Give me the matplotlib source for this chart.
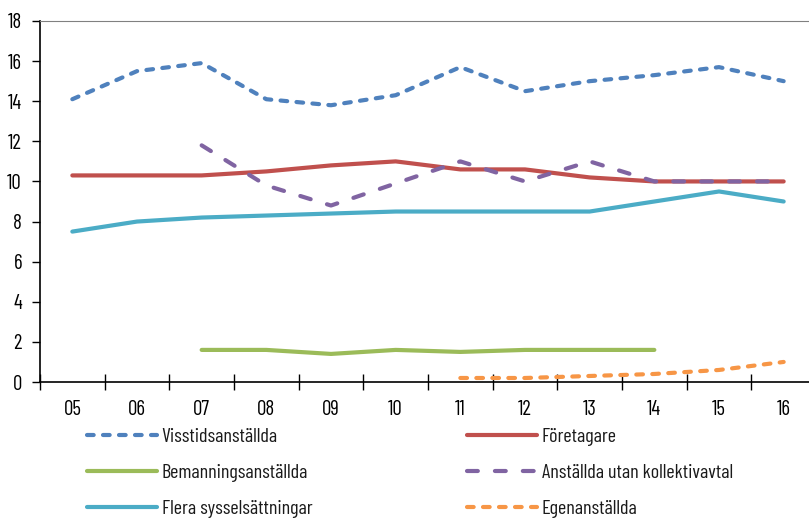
import matplotlib
matplotlib.use('Agg')
import matplotlib.pyplot as plt
import numpy as np

plt.rcParams['font.family'] = ['Barlow Condensed', 'Archivo Narrow', 'DejaVu Sans']
plt.rcParams['text.color'] = '#1a1a1a'

years = ['05', '06', '07', '08', '09', '10', '11', '12', '13', '14', '15', '16']

visstid = [14.1, 15.5, 15.9, 14.1, 13.8, 14.3, 15.7, 14.5, 15.0, 15.3, 15.7, 15.0]
foretagare = [10.3, 10.3, 10.3, 10.5, 10.8, 11.0, 10.6, 10.6, 10.2, 10.0, 10.0, 10.0]
bemanning = [None, None, 1.6, 1.6, 1.4, 1.6, 1.5, 1.6, 1.6, 1.6, None, None]
utan_avtal = [None, None, 11.8, 9.8, 8.8, 9.9, 11.0, 10.0, 11.0, 10.0, 10.0, 10.0]
flera = [7.5, 8.0, 8.2, 8.3, 8.4, 8.5, 8.5, 8.5, 8.5, 9.0, 9.5, 9.0]
egen = [None, None, None, None, None, None, 0.2, 0.2, 0.3, 0.4, 0.6, 1.0]


def arr(vals):
    return np.array([np.nan if v is None else v for v in vals], dtype=float)


fig = plt.figure(figsize=(8.09, 5.19), dpi=100)
ax = fig.add_axes([40 / 809, 137 / 519, 776 / 809, 361 / 519])

x = np.arange(len(years))
lw = 3

l1, = ax.plot(x, arr(visstid), color='#4F81BD', lw=lw, dashes=(1.6, 2.24),
              dash_capstyle='round', label='Visstidsanställda')
l4, = ax.plot(x, arr(foretagare), color='#C0504D', lw=lw,
              solid_capstyle='round', label='Företagare')
l2, = ax.plot(x, arr(bemanning), color='#9BBB59', lw=lw,
              solid_capstyle='round', label='Bemanningsanställda')
l5, = ax.plot(x, arr(utan_avtal), color='#8064A2', lw=lw, dashes=(2.6, 4.1),
              dash_capstyle='round', label='Anställda utan kollektivavtal')
l3, = ax.plot(x, arr(flera), color='#4BACC6', lw=lw,
              solid_capstyle='round', label='Flera sysselsättningar')
l6, = ax.plot(x, arr(egen), color='#F79646', lw=lw, dashes=(1.6, 2.24),
              dash_capstyle='round', label='Egenanställda')

ax.set_xlim(-0.5, len(years) - 0.5)
ax.set_ylim(0, 18)
ax.set_yticks(range(0, 19, 2))
ax.set_xticks(x)
ax.set_xticklabels(years)
ax.set_xticks(np.arange(-0.5, len(years), 1), minor=True)
ax.tick_params(axis='x', which='major', length=0, pad=13, labelsize=15)
ax.tick_params(axis='x', which='minor', length=11, direction='inout', width=1)
ax.tick_params(axis='y', length=6, width=1, direction='out', labelsize=15, pad=7)

ax.spines['right'].set_visible(False)
ax.spines['top'].set_color('#808080')
ax.spines['left'].set_linewidth(1.2)
ax.spines['bottom'].set_linewidth(1.2)

leg_kw = dict(frameon=False, fontsize=14.5, handlelength=3.5, handletextpad=0.2,
              labelspacing=0.88, borderpad=0, borderaxespad=0, loc='upper left')
leg1 = fig.legend(handles=[l1, l2, l3], bbox_to_anchor=(87 / 809, 1 - 428 / 519), **leg_kw)
leg2 = fig.legend(handles=[l4, l5, l6], bbox_to_anchor=(467 / 809, 1 - 428 / 519), **leg_kw)

fig.savefig('out.png', dpi=100)
